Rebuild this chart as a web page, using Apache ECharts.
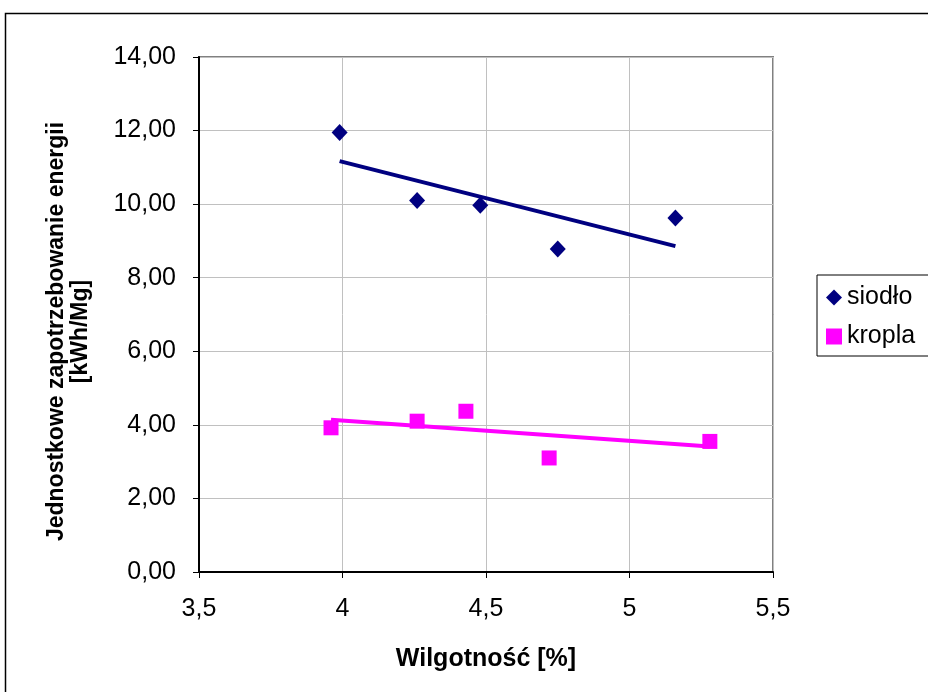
<!DOCTYPE html>
<html><head><meta charset="utf-8">
<script src="https://cdn.jsdelivr.net/npm/echarts@6/dist/echarts.min.js"></script>
<style>html,body{margin:0;padding:0;background:#fff}#c{width:928px;height:692px}</style>
</head><body><div id="c"></div>
<script>
var seriesNames = ['siodło', 'kropla'];
var siodloX = [3.99, 4.26, 4.48, 4.75, 5.16];
var siodloY = [11.95, 10.10, 9.97, 8.78, 9.62];
var kroplaX = [3.96, 4.26, 4.43, 4.72, 5.28];
var kroplaY = [3.92, 4.10, 4.37, 3.10, 3.55];
var siodloTrendX = [3.99, 5.16];
var siodloTrendY = [11.17, 8.86];
var kroplaTrendX = [3.96, 5.28];
var kroplaTrendY = [4.14, 3.41];
var xTicks = [3.5, 4, 4.5, 5, 5.5];
var yTicks = [0, 2, 4, 6, 8, 10, 12, 14];

function zip(a, b) { return a.map(function (v, i) { return [v, b[i]]; }); }
var FONT = 'Liberation Sans, Arial, sans-serif';
var chart = echarts.init(document.getElementById('c'));
chart.setOption({
  backgroundColor: '#fff',
  animation: false,
  graphic: [{
    type: 'rect', shape: { x: 5.5, y: 13.5, width: 940, height: 700 },
    style: { fill: 'none', stroke: '#000', lineWidth: 1.5 }, z: -1
  }],
  grid: { left: 199, top: 57, width: 574, height: 515, show: true, borderColor: '#808080', borderWidth: 2, backgroundColor: '#fff' },
  legend: {
    orient: 'vertical', left: 817, top: 275,
    backgroundColor: '#fff', borderColor: '#000', borderWidth: 1,
    padding: [10, 40, 7, 9], itemGap: 14, itemWidth: 16, itemHeight: 16,
    textStyle: { fontFamily: FONT, fontSize: 25, color: '#000' },
    data: [{ name: 'siodło', icon: 'diamond' }, { name: 'kropla', icon: 'rect' }]
  },
  xAxis: {
    type: 'value', min: xTicks[0], max: xTicks[xTicks.length - 1], interval: 0.5,
    axisLine: { show: true, lineStyle: { color: '#000', width: 2 } },
    axisTick: { show: true, length: 6, lineStyle: { color: '#000' } },
    axisLabel: { margin: 25, fontFamily: FONT, fontSize: 25, color: '#000', formatter: function (v) { return String(v).replace('.', ','); } },
    splitLine: { show: true, lineStyle: { color: '#c0c0c0', width: 1 } },
    name: 'Wilgotność [%]', nameLocation: 'middle', nameGap: 75,
    nameTextStyle: { fontFamily: FONT, fontSize: 25, fontWeight: 'bold', color: '#000' }
  },
  yAxis: {
    type: 'value', min: yTicks[0], max: yTicks[yTicks.length - 1], interval: 2,
    axisLine: { show: true, lineStyle: { color: '#000', width: 2 } },
    axisTick: { show: true, length: 6, lineStyle: { color: '#000' } },
    axisLabel: { margin: 23, fontFamily: FONT, fontSize: 25, color: '#000', formatter: function (v) { return v.toFixed(2).replace('.', ','); } },
    splitLine: { show: true, lineStyle: { color: '#c0c0c0', width: 1 } },
    name: 'Jednostkowe zapotrzebowanie energii\n[kWh/Mg]', nameLocation: 'middle', nameGap: 106, nameRotate: 90,
    nameTextStyle: { fontFamily: FONT, fontSize: 23, fontWeight: 'bold', color: '#000', lineHeight: 24, padding: [0, 34, 0, 0] }
  },
  series: [
    { name: seriesNames[0], type: 'scatter', symbol: 'diamond', symbolSize: [16, 17], itemStyle: { color: '#000080', opacity: 1 }, data: zip(siodloX, siodloY), z: 5 },
    { name: seriesNames[1], type: 'scatter', symbol: 'rect', symbolSize: 15, itemStyle: { color: '#ff00ff', opacity: 1 }, data: zip(kroplaX, kroplaY), z: 5 },
    { name: 'siodło trend', type: 'line', symbol: 'none', lineStyle: { color: '#000080', width: 4 }, data: zip(siodloTrendX, siodloTrendY), z: 4 },
    { name: 'kropla trend', type: 'line', symbol: 'none', lineStyle: { color: '#ff00ff', width: 4 }, data: zip(kroplaTrendX, kroplaTrendY), z: 4 }
  ]
});
</script></body></html>
